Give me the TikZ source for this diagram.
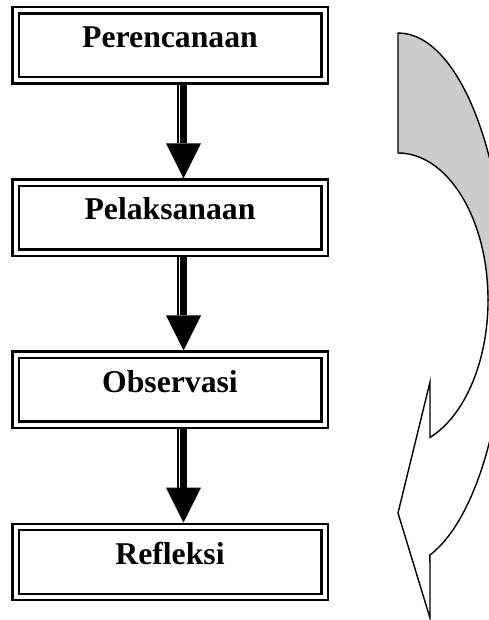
\documentclass[tikz,border=0pt]{standalone}
\usepackage{fontspec}
\setmainfont{Liberation Serif}
\usepackage{tikz}
\usetikzlibrary{
  arrows.meta,
  positioning,
  chains
}
\usepackage{xcolor}
\definecolor{lightGray}{rgb}{0.8,0.8,0.8}
\tikzset{
  stage/.style={
    draw,
    line width=2.3pt,
    double distance=4pt,
    minimum width=309pt,
    minimum height=70pt,
    outer sep=4.3pt,
    text height=0.7em,
    text depth=0.25em,
    font=\fontsize{31.7}{38}\selectfont\bfseries
  },
  thinShaft/.style={line width=2pt},
  thickShaft/.style={
    line width=7.6pt,
    -{Triangle[width=35pt,length=35pt,line width=0pt]}
  },
  curveLine/.style={line width=1.4pt, line join=miter}
}

\begin{document}
\begin{tikzpicture}[
      x=1pt, y=1pt,
      node distance=93.6pt,
      start chain=going below
      ]
      \useasboundingbox (0,0) rectangle (488,620);

      \begin{scope}[shift={(170,574.6)}]
        \foreach \stageName [count=\i] in {Perencanaan,Pelaksanaan,Observasi,Refleksi}{
          \node[on chain, stage] (s\i) {\stageName};
        }
      \end{scope}

      \foreach \i/\j in {1/2,2/3,3/4}{
        \draw[thinShaft] ([xshift=7.7pt]s\i.south) -- ([xshift=7.7pt,yshift=35pt]s\j.north);
        \draw[thickShaft] ([xshift=13.5pt]s\i.south) -- ([xshift=13.5pt]s\j.north);
      }

      % curved arrow on the right (cut by the page edge)
      \filldraw[curveLine, fill=lightGray]
        (398,587) arc[start angle=90, end angle=0, x radius=108, y radius=267]
        -- (488,320) arc[start angle=0, end angle=90, x radius=90, y radius=147]
        -- cycle;
      \filldraw[curveLine, fill=white]
        (430,238) -- (430,182.6)
        arc[start angle=-69.2, end angle=0, x radius=90, y radius=147]
        -- (506,320)
        arc[start angle=0, end angle=-72.8, x radius=108, y radius=267]
        -- (430,2) -- (398,107) -- cycle;
    \end{tikzpicture}
\end{document}
